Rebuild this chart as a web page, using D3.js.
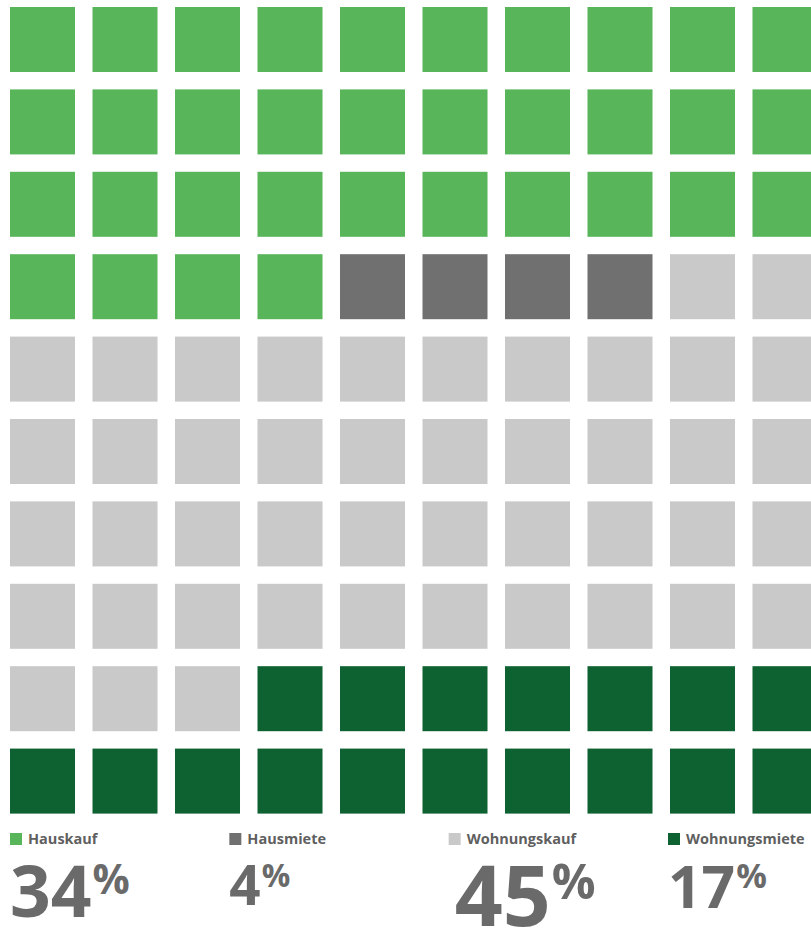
<!DOCTYPE html>
<html>
<head>
<meta charset="utf-8">
<script src="https://cdn.jsdelivr.net/npm/d3@7"></script>
<style>
  body { margin: 0; background: #fff; overflow: hidden; }
  svg { display: block; font-family: "Open Sans", sans-serif; }
  .legend text { font-size: 14.5px; font-weight: 700; fill: #5f5f5f; }
  .value { font-weight: 700; fill: #6a6a6a; }
</style>
</head>
<body>
<svg width="811" height="935"></svg>
<script>
// shares of 100 squares
const categories = ['Hauskauf', 'Hausmiete', 'Wohnungskauf', 'Wohnungsmiete'];
const values = [34, 4, 45, 17];
const colors = ['#58b55a', '#707070', '#c9c9c9', '#0e6231'];

const cols = 10;
const rows = 10;

// one cell per percent, filled row by row
const cells = [];
categories.forEach(function(c, i) {
    for (let k = 0; k < values[i]; k++) cells.push(c);
});

const color = d3.scaleOrdinal()
    .domain(categories)
    .range(colors);

const x = d3.scaleBand()
    .domain(d3.range(cols))
    .range([10, 817.5])
    .paddingInner(0.212);

const y = d3.scaleBand()
    .domain(d3.range(rows))
    .range([7, 813.6])
    .paddingInner(0.211);

const svg = d3.select('svg');

svg.append('g')
    .attr('class', 'grid')
    .selectAll('rect').data(cells)
    .enter().append('rect')
    .attr('x', function(d, i) { return x(i % cols); })
    .attr('y', function(d, i) { return y(Math.floor(i / cols)); })
    .attr('width', x.bandwidth())
    .attr('height', y.bandwidth())
    .attr('fill', function(d) { return color(d); });

// legend columns
const lx = d3.scalePoint()
    .domain(categories)
    .range([10, 668]);

const legend = svg.append('g')
    .attr('class', 'legend')
    .selectAll('g').data(categories)
    .enter().append('g')
    .attr('transform', function(d) { return `translate(${lx(d)}, 833)`; });

legend.append('rect')
    .attr('width', 12)
    .attr('height', 12)
    .attr('fill', function(d) { return color(d); });

legend.append('text')
    .attr('x', 18)
    .attr('y', 11)
    .text(function(d) { return d; });

// number size grows with the share
const size = d3.scalePow()
    .exponent(2)
    .domain([0, 45])
    .range([54.5, 84]);

const numTop = 866;

const nums = svg.append('g')
    .selectAll('text').data(categories)
    .enter().append('text')
    .attr('class', 'value')
    .attr('x', function(d, i) { return lx(d) + (i === 2 ? 6 : 0); })
    .attr('y', function(d, i) { return numTop + 0.714 * size(values[i]); })
    .style('font-size', function(d, i) { return size(values[i]) + 'px'; });

nums.append('tspan')
    .text(function(d, i) { return values[i]; });

nums.append('tspan')
    .attr('dx', 1)
    .attr('dy', function(d, i) { return -0.3 * size(values[i]) - 2; })
    .style('font-size', '58%')
    .text('%');
</script>
</body>
</html>
